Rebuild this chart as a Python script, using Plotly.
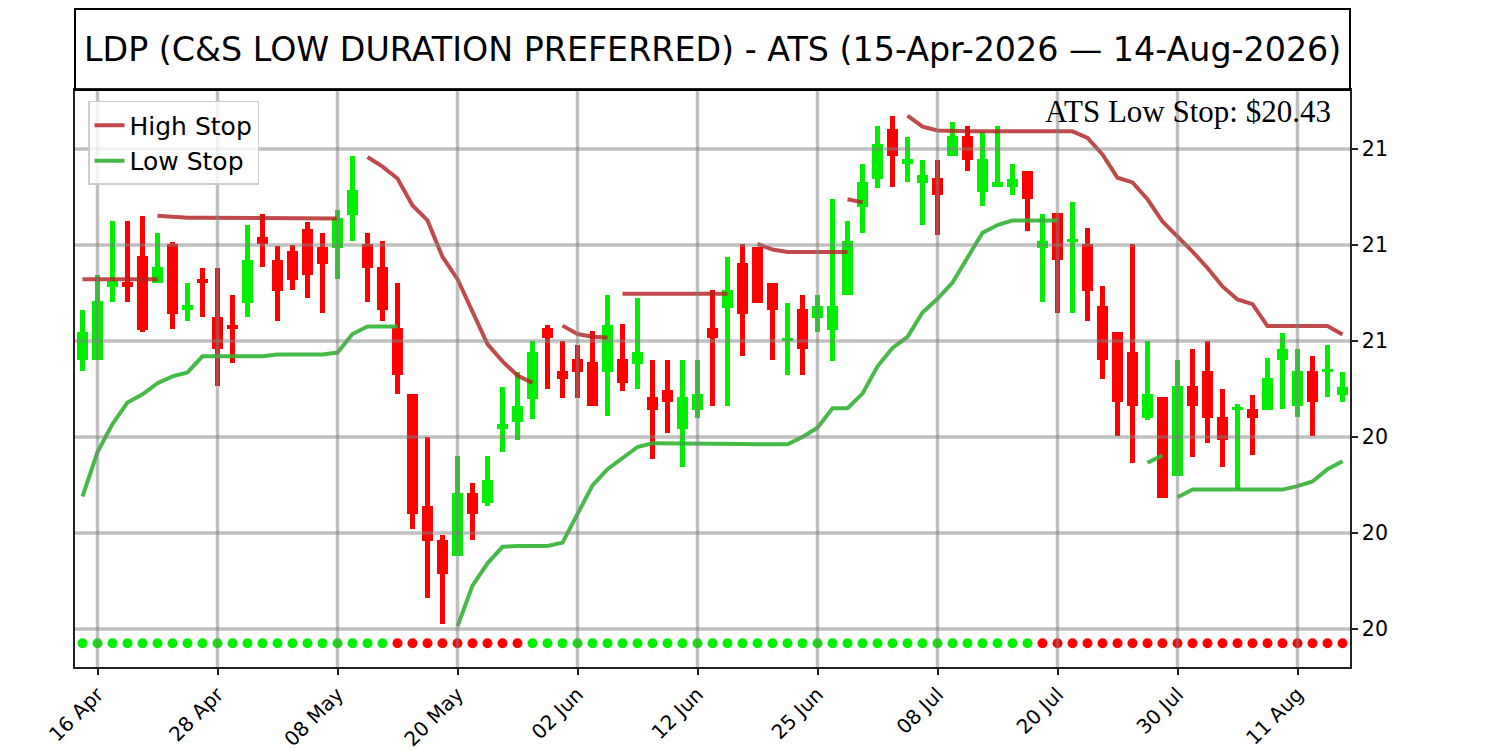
import plotly.graph_objects as go
import pandas as pd

# ---------------- data ----------------
holidays = ["2026-05-25", "2026-06-19", "2026-07-03"]
trade_dates = [d.strftime("%Y-%m-%d") for d in pd.bdate_range("2026-04-15", "2026-08-14")
               if d.strftime("%Y-%m-%d") not in holidays]

open_ = [20.700, 20.700, 20.890, 20.903, 20.972, 20.900, 21.003, 20.831, 20.912, 20.813,
         20.791, 20.849, 21.022, 20.962, 20.984, 21.042, 20.994, 20.991, 21.079, 21.003,
         20.943, 20.783, 20.611, 20.321, 20.232, 20.191, 20.353, 20.329, 20.520, 20.539,
         20.600, 20.783, 20.671, 20.703, 20.694, 20.670, 20.703, 20.689, 20.604, 20.623,
         20.520, 20.571, 20.783, 20.837, 20.952, 20.994, 20.902, 20.749, 20.834, 20.810,
         20.778, 20.871, 21.100, 21.171, 21.303, 21.211, 21.161, 21.175, 21.231, 21.284,
         21.139, 21.150, 21.151, 21.192, 20.991, 21.083, 21.008, 21.003, 20.842, 20.774,
         20.722, 20.549, 20.604, 20.399, 20.633, 20.672, 20.551, 20.571, 20.573, 20.571,
         20.700, 20.580, 20.672, 20.670, 20.610]
high = [20.832, 20.921, 21.063, 21.063, 21.075, 21.030, 21.008, 20.900, 20.940, 20.940,
        20.871, 21.052, 21.081, 20.997, 21.001, 21.061, 21.030, 21.092, 21.233, 21.030,
        21.010, 20.900, 20.611, 20.500, 20.244, 20.450, 20.379, 20.450, 20.631, 20.670,
        20.751, 20.791, 20.751, 20.740, 20.776, 20.871, 20.795, 20.861, 20.701, 20.701,
        20.701, 20.701, 20.882, 20.970, 21.003, 20.994, 20.902, 20.850, 20.871, 20.871,
        21.119, 21.062, 21.211, 21.311, 21.337, 21.281, 21.221, 21.221, 21.320, 21.310,
        21.294, 21.310, 21.211, 21.192, 21.081, 21.083, 21.112, 21.044, 20.892, 20.774,
        21.003, 20.751, 20.604, 20.700, 20.730, 20.751, 20.626, 20.587, 20.610, 20.706,
        20.771, 20.730, 20.711, 20.739, 20.670]
low = [20.671, 20.700, 20.851, 20.851, 20.774, 20.900, 20.781, 20.803, 20.813, 20.633,
       20.692, 20.813, 20.942, 20.803, 20.882, 20.863, 20.822, 20.911, 21.011, 20.851,
       20.803, 20.611, 20.261, 20.082, 20.012, 20.191, 20.232, 20.321, 20.461, 20.491,
       20.547, 20.626, 20.602, 20.602, 20.580, 20.555, 20.621, 20.626, 20.442, 20.510,
       20.423, 20.550, 20.580, 20.580, 20.712, 20.849, 20.701, 20.662, 20.662, 20.773,
       20.697, 20.871, 21.030, 21.148, 21.151, 21.163, 21.052, 21.027, 21.231, 21.192,
       21.102, 21.150, 21.131, 21.037, 20.851, 20.822, 20.822, 20.803, 20.652, 20.503,
       20.432, 20.544, 20.341, 20.399, 20.449, 20.484, 20.423, 20.363, 20.452, 20.571,
       20.573, 20.551, 20.503, 20.604, 20.592]
close = [20.773, 20.853, 20.905, 20.890, 20.778, 20.943, 20.819, 20.844, 20.900, 20.729,
         20.780, 20.962, 21.003, 20.880, 20.909, 20.921, 20.950, 21.071, 21.144, 20.940,
         20.831, 20.662, 20.300, 20.229, 20.142, 20.353, 20.300, 20.387, 20.534, 20.582,
         20.722, 20.759, 20.650, 20.670, 20.580, 20.792, 20.640, 20.722, 20.570, 20.590,
         20.604, 20.611, 20.759, 20.884, 20.819, 20.849, 20.831, 20.752, 20.729, 20.842,
         20.842, 21.011, 21.163, 21.263, 21.231, 21.223, 21.182, 21.129, 21.284, 21.221,
         21.224, 21.163, 21.172, 21.119, 21.011, 20.960, 21.015, 20.880, 20.700, 20.590,
         20.580, 20.611, 20.341, 20.633, 20.580, 20.549, 20.491, 20.575, 20.549, 20.653,
         20.730, 20.672, 20.590, 20.674, 20.631]

# stop lines as (start index, values) segments
high_stop_segments = [
    (0, [20.911, 20.911, 20.911, 20.911, 20.911, 20.911]),
    (5, [21.076, 21.073, 21.071, 21.071, 21.071, 21.071, 21.071, 21.071, 21.071,
         21.070, 21.069, 21.069, 21.069]),
    (19, [21.229, 21.204, 21.173, 21.103, 21.064, 20.969, 20.911, 20.829, 20.742,
          20.697, 20.660, 20.641]),
    (32, [20.790, 20.768, 20.761, 20.759]),
    (36, [20.873, 20.873, 20.873, 20.873, 20.873, 20.873, 20.873, 20.873]),
    (45, [21.003, 20.988, 20.982, 20.982, 20.982, 20.982, 20.982]),
    (51, [21.119, 21.111]),
    (55, [21.337, 21.308, 21.298, 21.296, 21.296, 21.296, 21.296, 21.296, 21.296,
          21.296, 21.296, 21.296, 21.279, 21.236, 21.175, 21.163, 21.119, 21.061,
          21.022, 20.983, 20.940, 20.892, 20.858, 20.846, 20.789, 20.789, 20.789,
          20.789, 20.789, 20.767]),
]
low_stop_segments = [
    (0, [20.345, 20.461, 20.534, 20.590, 20.611, 20.640, 20.658, 20.668, 20.710, 20.710,
         20.710, 20.710, 20.710, 20.715, 20.715, 20.713, 20.715, 20.720, 20.768, 20.788,
         20.788, 20.788]),
    (25, [20.007, 20.113, 20.171, 20.214, 20.216, 20.216, 20.216, 20.225, 20.297, 20.374,
          20.416, 20.445, 20.474, 20.484, 20.484, 20.484, 20.484, 20.484, 20.484, 20.482,
          20.481, 20.481, 20.481, 20.500, 20.524, 20.575, 20.575, 20.613, 20.684, 20.732,
          20.761, 20.824, 20.860, 20.902, 20.965, 21.032, 21.052, 21.064, 21.064, 21.064,
          21.064]),
    (71, [20.433, 20.452]),
    (73, [20.343, 20.363, 20.363, 20.363, 20.363, 20.363, 20.363, 20.363, 20.372,
          20.384, 20.416, 20.437]),
]

# trend state per bar: G = up (green dot), R = down (red dot)
trend = ("GGGGGGGGGGGGGGGGGGGGG" "RRRRRRRRR"
         "GGGGGGGGGGGGGGGGGGGGGGGGGGGGGGGGGG" "RRRRRRRRRRRRRRRRRRRRR")

tick_dates = ["2026-04-16", "2026-04-28", "2026-05-08", "2026-05-20", "2026-06-02",
              "2026-06-12", "2026-06-25", "2026-07-08", "2026-07-20", "2026-07-30",
              "2026-08-11"]
tick_labels = ["16 Apr", "28 Apr", "08 May", "20 May", "02 Jun", "12 Jun", "25 Jun",
               "08 Jul", "20 Jul", "30 Jul", "11 Aug"]
y_tickvals = [20.0, 20.25, 20.5, 20.75, 21.0, 21.25]
y_ticktext = ["20", "20", "20", "21", "21", "21"]

title_text = "LDP (C&S LOW DURATION PREFERRED) - ATS (15-Apr-2026 \u2014 14-Aug-2026)"
ats_low_stop = 20.43

# ---------------- figure ----------------
GREEN = "#00ee00"
RED = "#ff0000"
HS_COLOR = "rgba(178,34,34,0.82)"
LS_COLOR = "rgba(50,178,50,0.9)"

xs = list(range(len(trade_dates)))
up = [c >= o for o, c in zip(open_, close)]
cols = [GREEN if u else RED for u in up]

fig = go.Figure()


def seg_xy(segments):
    X, Y = [], []
    for start, vals in segments:
        X += list(range(start, start + len(vals))) + [None]
        Y += list(vals) + [None]
    return X, Y


hx, hy = seg_xy(high_stop_segments)
lx, ly = seg_xy(low_stop_segments)
fig.add_trace(go.Scatter(x=hx, y=hy, mode="lines", name="High Stop",
                         line=dict(color=HS_COLOR, width=4), connectgaps=False))
fig.add_trace(go.Scatter(x=lx, y=ly, mode="lines", name="Low Stop",
                         line=dict(color=LS_COLOR, width=4), connectgaps=False))

# wicks
fig.add_trace(go.Bar(x=xs, y=[h - l for h, l in zip(high, low)], base=low, width=0.27,
                     marker=dict(color=cols, line=dict(width=0)), showlegend=False,
                     hoverinfo="skip"))
# bodies
fig.add_trace(go.Bar(x=xs, y=[max(abs(c - o), 0.008) for o, c in zip(open_, close)],
                     base=[min(o, c) for o, c in zip(open_, close)], width=0.72,
                     marker=dict(color=cols, line=dict(width=0)), showlegend=False,
                     hoverinfo="skip"))

# trend dots
dot_level = 19.963
fig.add_trace(go.Scatter(x=xs, y=[dot_level] * len(xs), mode="markers", showlegend=False,
                         marker=dict(size=10, color=[GREEN if t == "G" else RED for t in trend],
                                     line=dict(width=0)), hoverinfo="skip"))

tickvals = [trade_dates.index(d) for d in tick_dates]

shapes = []
GRID = "rgba(128,128,128,0.5)"
for tv in tickvals:
    shapes.append(dict(type="line", xref="x", yref="paper", x0=tv, x1=tv, y0=0, y1=1,
                       line=dict(color=GRID, width=3.5), layer="above"))
for yv in y_tickvals:
    shapes.append(dict(type="line", xref="paper", yref="y", x0=0, x1=1, y0=yv, y1=yv,
                       line=dict(color=GRID, width=3.5), layer="above"))
# title box
shapes.append(dict(type="rect", xref="paper", yref="paper", x0=0, x1=1, y0=1, y1=1 + 81 / 577,
                   line=dict(color="black", width=2), fillcolor="rgba(0,0,0,0)", layer="above"))

# the page body has an 8px margin, so the figure is sized to fit inside the window
fig.update_layout(
    width=1492, height=742, autosize=False,
    margin=dict(l=67, r=150, t=82, b=83, pad=0, autoexpand=False),
    paper_bgcolor="white", plot_bgcolor="white",
    barmode="overlay", bargap=0,
    font=dict(family="DejaVu Sans", size=20, color="black"),
    shapes=shapes,
    showlegend=True,
    legend=dict(x=0.0102, y=0.981, xanchor="left", yanchor="top",
                bgcolor="rgba(255,255,255,0.8)", bordercolor="#cccccc", borderwidth=1.5,
                font=dict(family="DejaVu Sans", size=25, color="black"),
                itemwidth=30, tracegroupgap=0),
    xaxis=dict(range=[-0.5, len(xs) - 0.5], tickmode="array", tickvals=tickvals,
               ticktext=tick_labels, tickangle=-45, showgrid=False, zeroline=False,
               showline=True, linecolor="#222", linewidth=1.5, mirror=True,
               ticks="outside", ticklen=6, tickwidth=1.5, tickcolor="#222",
               automargin=False, tickfont=dict(size=20, family="DejaVu Sans")),
    yaxis=dict(range=[19.901, 21.4036], side="right", tickmode="array",
               tickvals=y_tickvals, ticktext=y_ticktext, showgrid=False, zeroline=False,
               showline=True, linecolor="#222", linewidth=1.5, mirror=True,
               ticks="outside", ticklen=6, tickwidth=1.5, tickcolor="#222",
               automargin=False, tickfont=dict(size=20.5, family="DejaVu Sans")),
    annotations=[
        dict(text=title_text, xref="paper", yref="paper", x=0.5, y=1 + 40.5 / 577,
             xanchor="center", yanchor="middle", showarrow=False,
             font=dict(family="DejaVu Sans", size=33.3, color="black")),
        dict(text=f"ATS Low Stop: ${ats_low_stop:.2f}", xref="paper", yref="paper",
             x=(1333 - 75) / 1275, y=1 - 21 / 577, xanchor="right", yanchor="middle",
             showarrow=False, font=dict(family="Liberation Serif", size=31, color="black")),
    ],
)

fig.write_html("out.html")
